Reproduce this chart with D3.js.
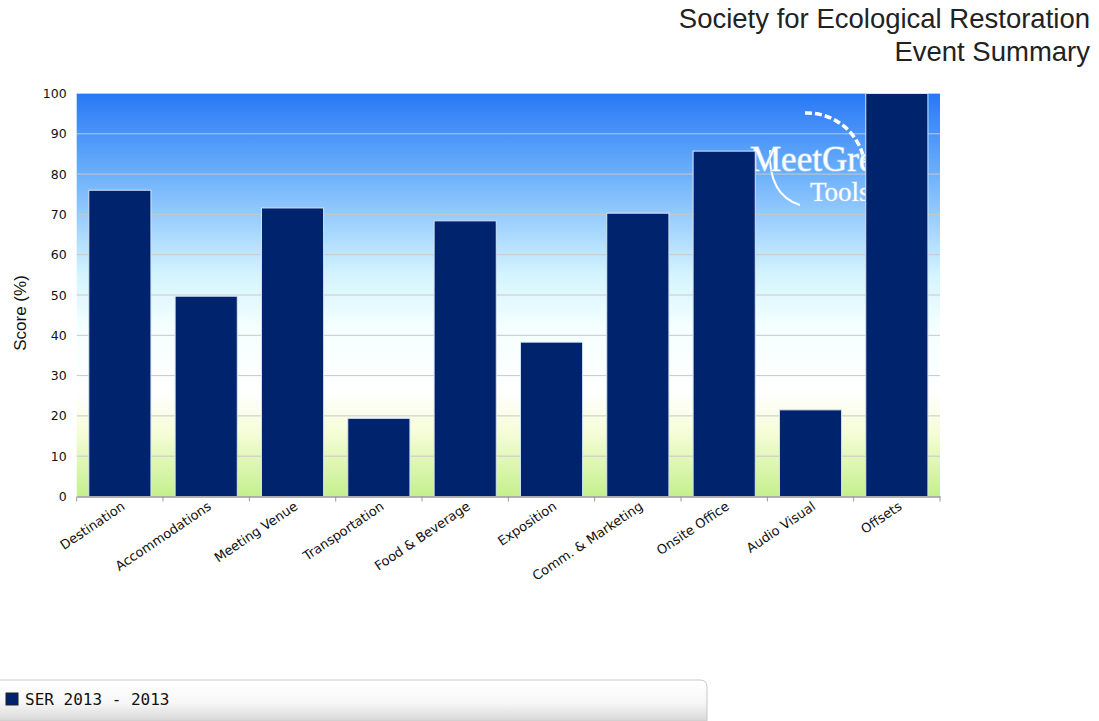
<!DOCTYPE html>
<html>
<head>
<meta charset="utf-8">
<script src="https://cdn.jsdelivr.net/npm/d3@7"></script>
<style>
  body { margin: 0; background: #fff; }
  svg { display: block; font-family: 'Liberation Sans', Arial, sans-serif; }
</style>
</head>
<body>
<div id="chart-container" style="width:1099px;height:721px"></div>
<script>
const categories = ['Destination', 'Accommodations', 'Meeting Venue', 'Transportation',
  'Food & Beverage', 'Exposition', 'Comm. & Marketing', 'Onsite Office', 'Audio Visual', 'Offsets']
const scores = [76, 49.7, 71.6, 19.4, 68.4, 38.3, 70.3, 85.7, 21.5, 100]
const yTicks = [0, 10, 20, 30, 40, 50, 60, 70, 80, 90, 100]
const seriesName = 'SER 2013 - 2013'
const titleLines = ['Society for Ecological Restoration', 'Event Summary']

const data = categories.map((c, i) => ({ category: c, score: scores[i] }))

const margin = { top: 93.5, left: 76.7 }
const width = 940 - margin.left
const height = 496.5 - margin.top

const svg = d3.select('#chart-container').append('svg')
  .attr('width', 1099)
  .attr('height', 721)

const defs = svg.append('defs')
const bg = defs.append('linearGradient')
  .attr('id', 'bg').attr('x1', 0).attr('y1', 0).attr('x2', 0).attr('y2', 1)
bg.append('stop').attr('offset', '0%').attr('stop-color', '#2878f6')
bg.append('stop').attr('offset', '20%').attr('stop-color', '#6cb0fb')
bg.append('stop').attr('offset', '45%').attr('stop-color', '#d4f4ff')
bg.append('stop').attr('offset', '58%').attr('stop-color', '#f4ffff')
bg.append('stop').attr('offset', '74%').attr('stop-color', '#ffffff')
bg.append('stop').attr('offset', '84%').attr('stop-color', '#f6fdd8')
bg.append('stop').attr('offset', '100%').attr('stop-color', '#c4f08c')

const lg = defs.append('linearGradient')
  .attr('id', 'legendbg').attr('x1', 0).attr('y1', 0).attr('x2', 0).attr('y2', 1)
lg.append('stop').attr('offset', '0%').attr('stop-color', '#ffffff')
lg.append('stop').attr('offset', '55%').attr('stop-color', '#f7f7f7')
lg.append('stop').attr('offset', '100%').attr('stop-color', '#d8d8d8')

// title
svg.append('g').selectAll('text')
  .data(titleLines)
  .join('text')
  .attr('x', 1090)
  .attr('y', (d, i) => 28 + i * 33)
  .attr('text-anchor', 'end')
  .attr('font-size', 27.5)
  .attr('fill', '#222')
  .text(d => d)

const x = d3.scaleBand()
  .domain(categories)
  .range([0, width])
  .paddingInner(0.28)
  .paddingOuter(0.14)

const y = d3.scaleLinear()
  .domain([0, 100])
  .range([height, 0])

const g = svg.append('g')
  .attr('transform', 'translate(' + margin.left + ',' + margin.top + ')')

g.append('rect')
  .attr('width', width)
  .attr('height', height)
  .attr('fill', 'url(#bg)')

// gridlines
g.append('g')
  .selectAll('line')
  .data(yTicks.filter(d => d > 0))
  .join('line')
  .attr('x1', 0).attr('x2', width)
  .attr('y1', d => y(d)).attr('y2', d => y(d))
  .attr('stroke', '#c8c8c8')
  .attr('stroke-width', 1)

// watermark (page coords)
const wm = g.append('g')
  .attr('transform', 'translate(' + (-margin.left) + ',' + (-margin.top) + ')')
wm.append('path')
  .attr('d', 'M 805 113 A 58 58 0 0 1 864 160')
  .attr('fill', 'none')
  .attr('stroke', '#ffffff')
  .attr('stroke-width', 3.5)
  .attr('stroke-dasharray', '7 3')
wm.append('path')
  .attr('d', 'M 770 150 Q 768 195 800 205')
  .attr('fill', 'none')
  .attr('stroke', '#ffffff')
  .attr('stroke-width', 2)
wm.selectAll('text.wm')
  .data([['MeetGreen', 750, 171, 35], ['Tools', 810, 201, 27]])
  .join('text')
  .attr('class', 'wm')
  .attr('x', d => d[1]).attr('y', d => d[2])
  .attr('font-family', 'Liberation Serif, DejaVu Serif, serif')
  .attr('font-size', d => d[3])
  .attr('fill', '#ffffff')
  .attr('stroke', '#9ccaf8')
  .attr('stroke-width', 1.4)
  .attr('paint-order', 'stroke')
  .text(d => d[0])

// bars
g.append('g')
  .selectAll('rect')
  .data(data)
  .join('rect')
  .attr('x', d => x(d.category))
  .attr('y', d => y(d.score))
  .attr('width', x.bandwidth())
  .attr('height', d => height - y(d.score))
  .attr('fill', '#00236e')
  .attr('stroke', '#d8e4f4')
  .attr('stroke-width', 1)

// y axis
const yAxis = d3.axisLeft(y).tickValues(yTicks).tickSize(0).tickPadding(10)
g.append('g')
  .attr('class', 'y axis')
  .call(yAxis)
  .call(s => s.select('.domain').remove())
  .selectAll('text')
  .attr('font-family', 'DejaVu Sans, sans-serif')
  .attr('font-size', 12.5)
  .attr('fill', '#111')

// x axis
const xAxis = d3.axisBottom(x).tickSize(0).tickFormat('')
const xg = g.append('g')
  .attr('class', 'x axis')
  .attr('transform', 'translate(0,' + height + ')')
  .call(xAxis)
xg.select('.domain').attr('stroke', '#999').attr('stroke-width', 1.5)
xg.selectAll('.tick').remove()

// tick marks at band boundaries
const bounds = categories.map(c => x(c) - x.step() * x.paddingInner() / 2).concat([width])
xg.append('g')
  .selectAll('line')
  .data(bounds)
  .join('line')
  .attr('x1', d => d).attr('x2', d => d)
  .attr('y1', 0).attr('y2', 5)
  .attr('stroke', '#999')

xg.append('g')
  .selectAll('text')
  .data(categories)
  .join('text')
  .attr('transform', d => 'translate(' + (x(d) + x.bandwidth() / 2 + 6) + ',12) rotate(-34)')
  .attr('text-anchor', 'end')
  .attr('font-family', 'DejaVu Sans, sans-serif')
  .attr('font-size', 13)
  .attr('fill', '#111')
  .text(d => d)

// y label
svg.append('text')
  .attr('transform', 'translate(26,' + 313 + ') rotate(-90)')
  .attr('text-anchor', 'middle')
  .attr('font-size', 17)
  .attr('fill', '#111')
  .text('Score (%)')

// legend
const legend = svg.append('g')
legend.append('path')
  .attr('d', 'M -2 680 L 700 680 Q 707 680 707 687 L 707 721 L -2 721 Z')
  .attr('fill', 'url(#legendbg)')
  .attr('stroke', '#c8c8c8')
legend.append('rect')
  .attr('x', 6).attr('y', 693)
  .attr('width', 12).attr('height', 12)
  .attr('fill', '#00236e')
  .attr('stroke', '#222')
legend.append('text')
  .attr('x', 25).attr('y', 705)
  .attr('font-family', 'DejaVu Sans Mono, monospace')
  .attr('font-size', 16)
  .attr('fill', '#111')
  .text(seriesName)
</script>
</body>
</html>
